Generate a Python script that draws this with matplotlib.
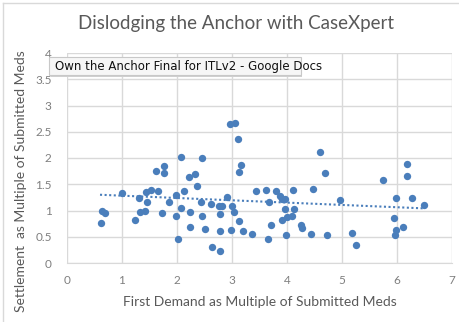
import numpy as np
import matplotlib.pyplot as plt
from matplotlib.patches import FancyBboxPatch

# first demand / submitted meds
first_demand = [0.61, 0.64, 0.70, 1.00, 1.23, 1.30, 1.32, 1.41, 1.44, 1.45,
                1.52, 1.61, 1.65, 1.72, 1.77, 1.77, 1.85, 1.98, 1.98, 2.01,
                2.08, 2.08, 2.13, 2.22, 2.24, 2.24, 2.32, 2.36, 2.45, 2.44,
                2.45, 2.50, 2.61, 2.63, 2.76, 2.82, 2.79, 2.79, 2.79, 2.91,
                2.96, 3.06, 3.00, 3.03, 2.98, 3.11, 3.17, 3.13, 3.13, 3.20,
                3.37, 3.43, 3.62, 3.67, 3.65, 3.71, 3.80, 3.88, 3.91, 3.97,
                3.91, 3.97, 4.00, 4.09, 4.13, 3.98, 4.11, 4.26, 4.28, 4.44,
                4.48, 4.60, 4.69, 4.73, 4.96, 5.18, 5.25, 5.75, 5.94, 5.98,
                5.96, 5.99, 6.11, 6.18, 6.18, 6.28, 6.49]
# settlement / submitted meds
settlement = [0.77, 0.99, 0.96, 1.33, 0.82, 1.23, 0.98, 1.00, 1.35, 1.17,
              1.39, 1.76, 1.37, 0.96, 1.84, 1.72, 1.17, 1.29, 0.90, 0.45,
              2.02, 1.04, 1.37, 1.64, 0.98, 0.68, 1.70, 1.46, 2.00, 1.16,
              0.90, 0.65, 1.13, 0.30, 1.09, 1.09, 0.94, 0.61, 0.22, 1.25,
              2.64, 2.67, 1.09, 0.98, 0.63, 2.36, 1.86, 1.74, 0.80, 0.61,
              0.55, 1.38, 1.39, 1.16, 0.45, 0.73, 1.38, 1.27, 1.21, 1.21,
              0.82, 1.02, 0.88, 0.90, 1.02, 0.53, 1.39, 0.72, 0.66, 0.55,
              1.41, 2.11, 1.72, 0.53, 1.20, 0.57, 0.35, 1.58, 0.86, 0.63,
              0.53, 1.23, 0.68, 1.88, 1.66, 1.23, 1.10]

# excel linear trendline at its ends
trend_x = [0.6, 6.5]
trend_y = [1.30, 1.04]

gray = '#595959'
tick_gray = '#7f7f7f'
blue = '#4a7ebb'

fig = plt.figure(figsize=(4.6, 3.22), dpi=100)
W, H = 460, 322
ax = fig.add_axes([67 / W, 1 - 263 / H, (452 - 67) / W, (263 - 53) / H])

ax.scatter(first_demand, settlement, s=28, color=blue, zorder=3, linewidths=0)
ax.plot(trend_x, trend_y, color=blue, ls=(0, (1, 1.2)), lw=1.5, zorder=2)

ax.set_xlim(0, 7)
ax.set_ylim(0, 4)
ax.set_xticks(range(0, 8))
ax.set_yticks(np.arange(0, 4.01, 0.5))
ax.set_yticklabels(['0', '0.5', '1', '1.5', '2', '2.5', '3', '3.5', '4'])
ax.grid(True, color='#d9d9d9', lw=1)
ax.set_axisbelow(True)
for side in ['top', 'right', 'left']:
    ax.spines[side].set_visible(False)
ax.spines['bottom'].set_color('#d9d9d9')
ax.tick_params(axis='y', length=0, colors=tick_gray, labelsize=8.5, pad=11)
ax.tick_params(axis='x', length=0, colors=tick_gray, labelsize=8.5, pad=9)
for t in ax.get_xticklabels() + ax.get_yticklabels():
    t.set_family('Lato')

ax.set_xlabel('First Demand as Multiple of Submitted Meds', fontsize=10,
              color=gray, family='Lato', labelpad=7)
ax.set_ylabel('Settlement  as Multiple of Submitted Meds', fontsize=10,
              color=gray, family='Lato', labelpad=6)
ax.yaxis.set_label_coords(-40 / (452 - 67), 0.39)

fig.text(236 / W, 1 - 23 / H, 'Dislodging the Anchor with CaseXpert',
         ha='center', va='center', fontsize=13.5, color=gray, family='Lato')

# chart border (top and left)
fig.add_artist(plt.Line2D([3 / W, 3 / W], [0, 1 - 3 / H], transform=fig.transFigure,
                          color='#d9d9d9', lw=1))
fig.add_artist(plt.Line2D([3 / W, 1], [1 - 3 / H, 1 - 3 / H], transform=fig.transFigure,
                          color='#d9d9d9', lw=1))

# browser tooltip
fig.add_artist(FancyBboxPatch((51 / W, 1 - 77 / H), 251 / W, 18 / H,
                              boxstyle='square,pad=0', transform=fig.transFigure,
                              facecolor='#d0d0d0', edgecolor='none', zorder=9))
fig.add_artist(FancyBboxPatch((49 / W, 1 - 75 / H), 252 / W, 18 / H,
                              boxstyle='square,pad=0', transform=fig.transFigure,
                              facecolor='#f6f6f6', edgecolor='#c8c8c8', lw=0.8,
                              zorder=10))
fig.text(55 / W, 1 - 66 / H, 'Own the Anchor Final for ITLv2 - Google Docs',
         ha='left', va='center', fontsize=8.5, color='#111111',
         family='DejaVu Sans', zorder=11)

fig.savefig('out.png', dpi=100)
